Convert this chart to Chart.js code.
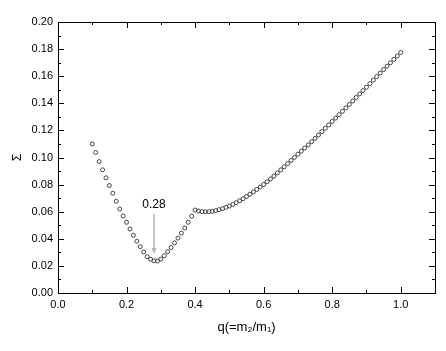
<!DOCTYPE html>
<html>
<head>
<meta charset="utf-8">
<script src="https://cdn.jsdelivr.net/npm/chart.js@4.4.1/dist/chart.umd.min.js"></script>
<style>
  html, body { margin: 0; padding: 0; background: #fff; }
  #wrap { width: 446px; height: 351px; }
</style>
</head>
<body>
<div id="wrap"><canvas id="chart"></canvas></div>
<script>
// datos: q = m2/m1 y Sigma
const qValues = [
  0.10, 0.11, 0.12, 0.13, 0.14, 0.15, 0.16, 0.17, 0.18, 0.19,
  0.20, 0.21, 0.22, 0.23, 0.24, 0.25, 0.26, 0.27, 0.28, 0.29,
  0.30, 0.31, 0.32, 0.33, 0.34, 0.35, 0.36, 0.37, 0.38, 0.39,
  0.40, 0.41, 0.42, 0.43, 0.44, 0.45, 0.46, 0.47, 0.48, 0.49,
  0.50, 0.51, 0.52, 0.53, 0.54, 0.55, 0.56, 0.57, 0.58, 0.59,
  0.60, 0.61, 0.62, 0.63, 0.64, 0.65, 0.66, 0.67, 0.68, 0.69,
  0.70, 0.71, 0.72, 0.73, 0.74, 0.75, 0.76, 0.77, 0.78, 0.79,
  0.80, 0.81, 0.82, 0.83, 0.84, 0.85, 0.86, 0.87, 0.88, 0.89,
  0.90, 0.91, 0.92, 0.93, 0.94, 0.95, 0.96, 0.97, 0.98, 0.99,
  1.00
];
const sigmaValues = [
  0.1100, 0.1037, 0.0970, 0.0909, 0.0850, 0.0793, 0.0736, 0.0677, 0.0620, 0.0569,
  0.0522, 0.0472, 0.0426, 0.0382, 0.0342, 0.0303, 0.0268, 0.0249, 0.0238, 0.0236,
  0.0250, 0.0275, 0.0305, 0.0336, 0.0370, 0.0405, 0.0442, 0.0480, 0.0522, 0.0567,
  0.0612, 0.0605, 0.0601, 0.0599, 0.0600, 0.0603, 0.0608, 0.0615, 0.0623, 0.0632,
  0.0642, 0.0654, 0.0667, 0.0681, 0.0696, 0.0712, 0.0729, 0.0746, 0.0764, 0.0782,
  0.0801, 0.0821, 0.0842, 0.0863, 0.0886, 0.0909, 0.0932, 0.0955, 0.0978, 0.1001,
  0.1024, 0.1047, 0.1070, 0.1093, 0.1117, 0.1141, 0.1166, 0.1191, 0.1216, 0.1241,
  0.1266, 0.1291, 0.1316, 0.1341, 0.1366, 0.1391, 0.1417, 0.1443, 0.1469, 0.1494,
  0.1519, 0.1545, 0.1571, 0.1597, 0.1623, 0.1649, 0.1674, 0.1699, 0.1724, 0.1749,
  0.1775
];

// marcas de los ejes
const xMajorTicks = [0.0, 0.2, 0.4, 0.6, 0.8, 1.0];
const xMinorTicks = [0.1, 0.3, 0.5, 0.7, 0.9];
const yMajorTicks = [0.00, 0.02, 0.04, 0.06, 0.08, 0.10, 0.12, 0.14, 0.16, 0.18, 0.20];
const yMinorTicks = [0.01, 0.03, 0.05, 0.07, 0.09, 0.11, 0.13, 0.15, 0.17, 0.19];

// anotación del mínimo
const minLabel = "0.28";
const minQ = 0.28;
const arrowFrom = 0.0584;
const arrowTo = 0.0288;
const labelY = 0.065;

const points = qValues.map((q, i) => ({ x: q, y: sigmaValues[i] }));

// marco y marcas hacia dentro en los cuatro lados
const framePlugin = {
  id: "frameTicks",
  afterDatasetsDraw(chart) {
    const { ctx, chartArea: a } = chart;
    const xs = chart.scales.x;
    const ys = chart.scales.y;
    ctx.save();
    ctx.strokeStyle = "#000";
    ctx.lineWidth = 1;
    ctx.beginPath();
    const tick = (vals, len) => {
      vals.forEach((v) => {
        const px = Math.round(xs.getPixelForValue(v)) + 0.5;
        ctx.moveTo(px, a.bottom); ctx.lineTo(px, a.bottom - len);
        ctx.moveTo(px, a.top); ctx.lineTo(px, a.top + len);
      });
    };
    const tickY = (vals, len) => {
      vals.forEach((v) => {
        const py = Math.round(ys.getPixelForValue(v)) + 0.5;
        ctx.moveTo(a.left, py); ctx.lineTo(a.left + len, py);
        ctx.moveTo(a.right, py); ctx.lineTo(a.right - len, py);
      });
    };
    tick(xMajorTicks, 6);
    tick(xMinorTicks, 3);
    tickY(yMajorTicks, 6);
    tickY(yMinorTicks, 3);
    ctx.stroke();
    ctx.strokeRect(Math.round(a.left) + 0.5, Math.round(a.top) + 0.5,
      Math.round(a.right - a.left), Math.round(a.bottom - a.top));

    // flecha y texto del mínimo
    const ax = xs.getPixelForValue(minQ);
    const y1 = ys.getPixelForValue(arrowFrom);
    const y2 = ys.getPixelForValue(arrowTo);
    ctx.strokeStyle = "#b4b4b4";
    ctx.fillStyle = "#b4b4b4";
    ctx.lineWidth = 1.5;
    ctx.beginPath();
    ctx.moveTo(ax, y1);
    ctx.lineTo(ax, y2 - 3);
    ctx.stroke();
    ctx.beginPath();
    ctx.moveTo(ax, y2);
    ctx.lineTo(ax - 2.5, y2 - 6);
    ctx.lineTo(ax + 2.5, y2 - 6);
    ctx.closePath();
    ctx.fill();
    ctx.fillStyle = "#000";
    ctx.font = "12px 'Liberation Sans', Arial, sans-serif";
    ctx.textAlign = "center";
    ctx.textBaseline = "middle";
    ctx.fillText(minLabel, ax, ys.getPixelForValue(labelY));
    ctx.restore();
  },
};

const tickFont = { family: "'Liberation Sans', Arial, sans-serif", size: 11 };

new Chart(document.getElementById("chart"), {
  type: "scatter",
  data: {
    datasets: [
      {
        data: points,
        pointStyle: "circle",
        pointRadius: 2,
        pointBorderWidth: 0.9,
        pointBorderColor: "#333",
        pointBackgroundColor: "rgba(0,0,0,0)",
        showLine: false,
      },
    ],
  },
  options: {
    responsive: true,
    maintainAspectRatio: false,
    animation: false,
    events: [],
    layout: { padding: { top: 22, right: 11, left: 0, bottom: 0 } },
    plugins: { legend: { display: false }, tooltip: { enabled: false } },
    scales: {
      x: {
        type: "linear",
        min: 0,
        max: 1.1,
        grid: { display: false, drawTicks: false },
        border: { display: false },
        afterBuildTicks: (s) => { s.ticks = xMajorTicks.map((v) => ({ value: v })); },
        afterFit: (s) => { s.height = 58; },
        ticks: {
          color: "#000",
          font: tickFont,
          padding: 5,
          maxRotation: 0,
          callback: (v) => Number(v).toFixed(1),
        },
        title: {
          display: true,
          text: "q(=m\u2082/m\u2081)",
          color: "#000",
          font: { family: "'Liberation Sans', Arial, sans-serif", size: 13 },
          padding: { top: 0, bottom: 16 },
        },
      },
      y: {
        type: "linear",
        min: 0,
        max: 0.2,
        grid: { display: false, drawTicks: false },
        border: { display: false },
        afterBuildTicks: (s) => { s.ticks = yMajorTicks.map((v) => ({ value: v })); },
        afterFit: (s) => { s.width = 58; },
        ticks: {
          color: "#000",
          font: tickFont,
          padding: 5,
          callback: (v) => Number(v).toFixed(2),
        },
        title: {
          display: true,
          text: "\u03A3",
          color: "#000",
          font: { family: "'Liberation Sans', Arial, sans-serif", size: 12 },
          padding: { top: 10, bottom: 0 },
        },
      },
    },
  },
  plugins: [framePlugin],
});
</script>
</body>
</html>
